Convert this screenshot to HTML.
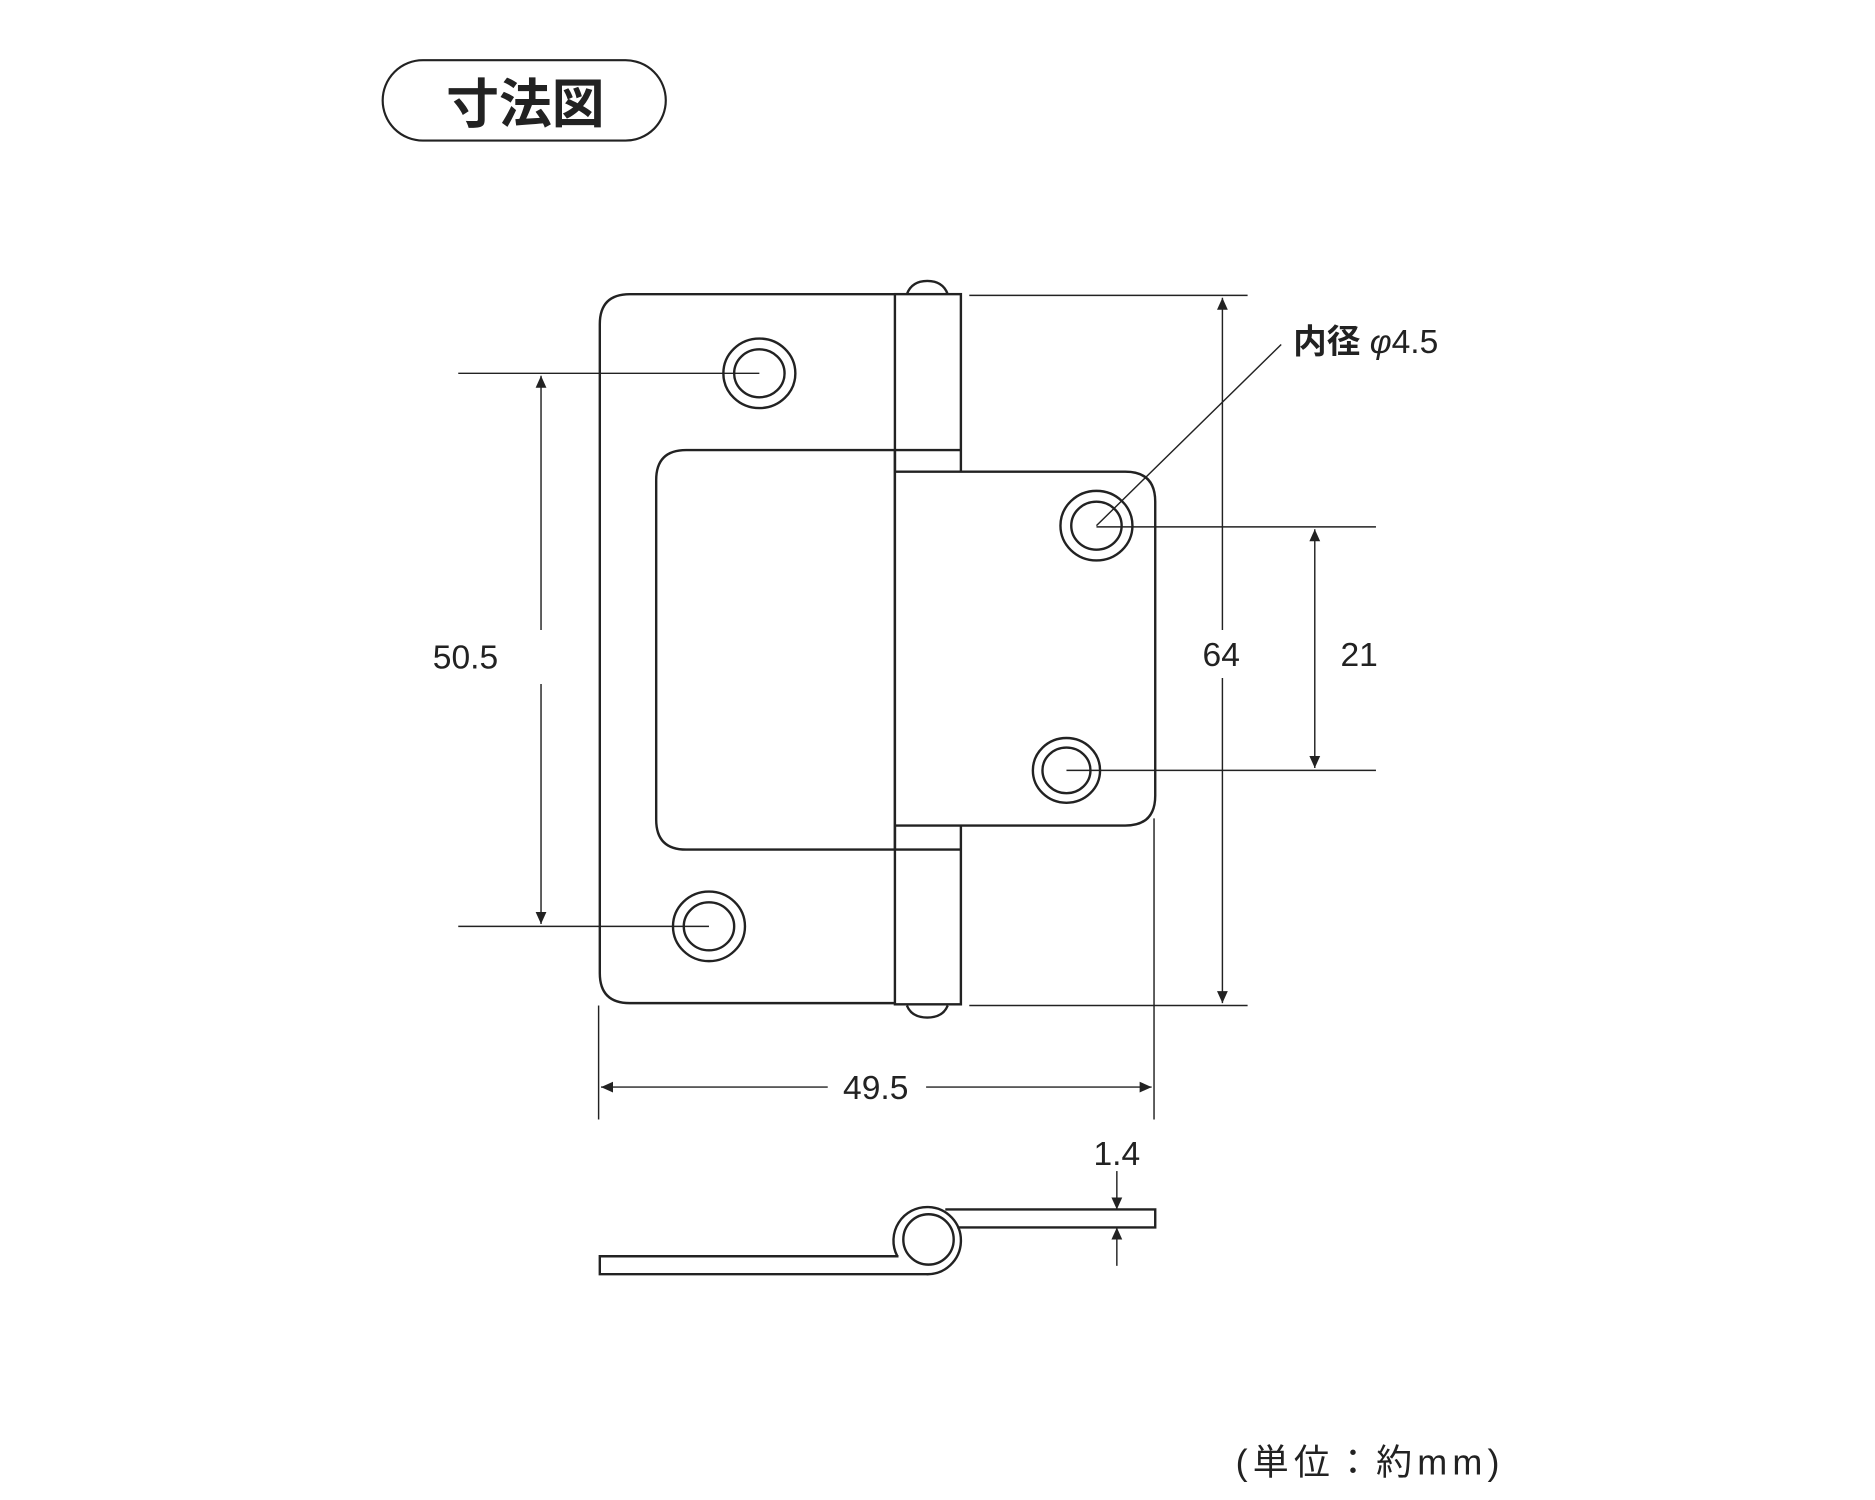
<!DOCTYPE html>
<html><head><meta charset="utf-8"><style>
html,body{margin:0;padding:0;background:#fff;}
svg{display:block;}
text{font-family:"Liberation Sans","Noto Sans CJK JP",sans-serif;fill:#222;}
</style></head><body>
<svg width="1875" height="1500" viewBox="0 0 1563 1250" xmlns="http://www.w3.org/2000/svg">
<defs>
<marker id="a" viewBox="0 0 10 10" refX="10" refY="5" markerWidth="16" markerHeight="10" markerUnits="userSpaceOnUse" orient="auto-start-reverse">
<path d="M0,0.5 L10,5 L0,9.5 z" fill="#222"/></marker>
</defs>
<g fill="none" stroke="#222">
<rect x="319" y="50" width="236" height="67" rx="33.5" stroke-width="1.8"/>
</g>
<text x="438" y="102" font-size="44" font-weight="bold" text-anchor="middle">寸法図</text>

<g fill="none" stroke="#222" stroke-width="2">
<path d="M756,245 Q760,234 773,234 Q786,234 790,245"/>
<path d="M756,838 Q760,848 773,848 Q786,848 790,838"/>
<path d="M746,245 H525 Q500,245 500,270 V811 Q500,836 525,836 H746"/>
<rect x="746" y="245" width="55" height="592" fill="#fff"/>
<path d="M801,375 H572 Q547,375 547,400 V683 Q547,708 572,708 H801"/>
<path d="M746,393 H938 Q963,393 963,418 V663 Q963,688 938,688 H746" fill="#fff"/>
<line x1="746" y1="375" x2="746" y2="708"/>
<ellipse cx="633" cy="311" rx="30" ry="29"/><ellipse cx="633" cy="311" rx="21" ry="20"/>
<ellipse cx="591" cy="772" rx="30" ry="29"/><ellipse cx="591" cy="772" rx="21" ry="20"/>
<ellipse cx="914" cy="438" rx="30" ry="29"/><ellipse cx="914" cy="438" rx="21" ry="20"/>
<ellipse cx="889" cy="642" rx="28" ry="27"/><ellipse cx="889" cy="642" rx="20" ry="19"/>
</g>

<g fill="none" stroke="#222" stroke-width="1.2">
<line x1="382" y1="311" x2="633" y2="311"/>
<line x1="382" y1="772" x2="591" y2="772"/>
<line x1="808" y1="246" x2="1040" y2="246"/>
<line x1="808" y1="838" x2="1040" y2="838"/>
<line x1="914" y1="439" x2="1147" y2="439"/>
<line x1="889" y1="642" x2="1147" y2="642"/>
<line x1="499" y1="838" x2="499" y2="933"/>
<line x1="962" y1="682" x2="962" y2="933"/>
<line x1="914" y1="438" x2="1068" y2="287"/>
<line x1="451" y1="313" x2="451" y2="525" marker-start="url(#a)"/>
<line x1="451" y1="570" x2="451" y2="770" marker-end="url(#a)"/>
<line x1="1019" y1="248" x2="1019" y2="525" marker-start="url(#a)"/>
<line x1="1019" y1="565" x2="1019" y2="836" marker-end="url(#a)"/>
<line x1="1096" y1="441" x2="1096" y2="640" marker-start="url(#a)" marker-end="url(#a)"/>
<line x1="501" y1="906" x2="690" y2="906" marker-start="url(#a)"/>
<line x1="772" y1="906" x2="960" y2="906" marker-end="url(#a)"/>
<line x1="931" y1="976" x2="931" y2="1008" marker-end="url(#a)"/>
<line x1="931" y1="1055" x2="931" y2="1023" marker-end="url(#a)"/>
</g>

<g fill="none" stroke="#222" stroke-width="2">
<path d="M749,1047 H500 V1062 H772 A28,28 0 1,0 774,1006"/>
<path d="M774,1006 A28,28 0 0,0 748,1047"/>
<circle cx="774" cy="1033" r="21"/>
<path d="M788,1008 H963 V1023 H798"/>
</g>

<text x="388" y="557" font-size="28" text-anchor="middle">50.5</text>
<text x="1018" y="555" font-size="28" text-anchor="middle">64</text>
<text x="1133" y="555" font-size="28" text-anchor="middle">21</text>
<text x="730" y="916" font-size="28" text-anchor="middle">49.5</text>
<text x="931" y="971" font-size="28" text-anchor="middle">1.4</text>
<text x="1078" y="294" font-size="28"><tspan font-weight="bold">内径</tspan> <tspan font-style="italic">φ</tspan>4.5</text>
<text x="1030" y="1229" font-size="30" textLength="220">(単位：約mm)</text>
</svg>
</body></html>
